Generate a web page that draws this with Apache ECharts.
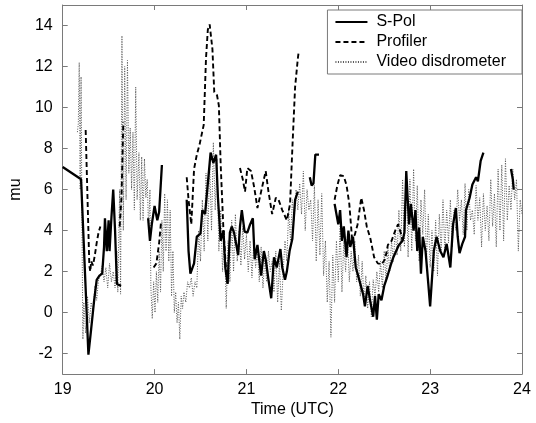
<!DOCTYPE html>
<html>
<head>
<meta charset="utf-8">
<script src="https://cdn.jsdelivr.net/npm/echarts@6/dist/echarts.min.js"></script>
<style>
  html, body { margin: 0; padding: 0; background: #fff; }
  #chart { width: 536px; height: 423px; }
</style>
</head>
<body>
<div id="chart"></div>
<script>
// tick labels
var xTicks = [19, 20, 21, 22, 23, 24];
var yTicks = [-2, 0, 2, 4, 6, 8, 10, 12, 14];

// S-Pol [time, mu], null = gap
var sPol = [
    [19.00, 7.1], [19.20, 6.5], [19.28, -2.05], [19.31, -0.8], [19.34, 0.5], [19.37, 1.6], [19.40, 1.8], [19.43, 1.9],
    [19.45, 3.2], [19.46, 4.6], [19.48, 3.0], [19.50, 4.5], [19.51, 3.0], [19.53, 4.6], [19.55, 6.0], [19.57, 4.0],
    [19.59, 1.4], [19.635, 1.3], [19.64, null],
    [19.93, 4.6], [19.95, 3.5], [19.97, 4.3], [20.00, 5.2], [20.03, 4.5], [20.05, 4.9], [20.08, 7.2], [20.1, null],
    [20.35, 5.5], [20.37, 3.0], [20.39, 1.9], [20.43, 2.4], [20.46, 3.7], [20.50, 3.85], [20.52, 5.0], [20.55, 4.8],
    [20.61, 7.8], [20.64, 7.3], [20.67, 7.7], [20.69, 5.6], [20.72, 3.5], [20.75, 4.0], [20.77, 2.2], [20.795, 1.4],
    [20.82, 3.9], [20.84, 4.2], [20.865, 3.9], [20.89, 3.3], [20.91, 2.8], [20.93, 4.2], [20.95, 5.0], [20.98, 3.95],
    [21.01, 3.9], [21.04, 4.3], [21.07, 4.6], [21.09, 2.6], [21.12, 3.3], [21.16, 1.8], [21.19, 3.0], [21.21, 2.6],
    [21.24, 1.6], [21.27, 0.7], [21.30, 2.7], [21.33, 2.2], [21.37, 3.1], [21.39, 2.2], [21.42, 1.6], [21.44, 2.0],
    [21.47, 3.0], [21.50, 3.6], [21.53, 5.5], [21.56, 5.9], [21.6, null],
    [21.69, 6.6], [21.71, 6.2], [21.73, 6.3], [21.75, 7.7], [21.79, 7.7], [21.85, null],
    [21.96, 5.3], [22.00, 4.3], [22.02, 5.0], [22.04, 3.5], [22.06, 4.2], [22.09, 2.7], [22.11, 4.0], [22.13, 3.2],
    [22.16, 3.7], [22.19, 2.2], [22.21, 1.9], [22.24, 1.4], [22.27, 0.9], [22.29, 0.3], [22.32, 1.3], [22.35, 0.5],
    [22.38, -0.2], [22.40, 0.8], [22.42, -0.35], [22.44, 0.9], [22.47, 0.6], [22.50, 1.3], [22.53, 1.7], [22.57, 2.3],
    [22.60, 2.7], [22.63, 3.0], [22.66, 3.3], [22.70, 3.5], [22.72, 3.9], [22.74, 6.9], [22.77, 4.3], [22.79, 5.3],
    [22.82, 4.0], [22.84, 5.0], [22.86, 3.0], [22.88, 4.15], [22.90, 1.9], [22.92, 3.7], [22.95, 3.0], [22.98, 1.4],
    [23.00, 0.3], [23.04, 3.0], [23.07, 3.7], [23.11, 3.0], [23.145, 2.7], [23.18, 3.35], [23.22, 2.2], [23.25, 4.3],
    [23.28, 5.1], [23.30, 3.7], [23.32, 2.9], [23.35, 3.35], [23.38, 3.7], [23.39, 5.0], [23.43, 5.6], [23.46, 6.25],
    [23.50, 6.6], [23.52, 6.4], [23.55, 7.4], [23.58, 7.8], [23.7, null],
    [23.88, 7.0], [23.90, 6.5], [23.91, 6.0]
];

// Profiler
var profiler = [
    [19.25, 8.9], [19.29, 2.3], [19.30, 2.0], [19.31, 2.5], [19.33, 2.3], [19.35, 2.8], [19.37, 3.4], [19.39, 3.9],
    [19.41, 4.2], [19.42, null],
    [19.62, 4.2], [19.64, 5.6], [19.66, 9.3], [19.7, null],
    [19.99, 2.2], [20.02, 2.4], [20.05, 3.4], [20.07, 4.4], [20.1, null],
    [20.35, 6.6], [20.37, 5.5], [20.40, 4.3], [20.43, 7.0], [20.46, 7.7], [20.49, 8.2], [20.51, 8.25], [20.535, 9.15],
    [20.56, 12.4], [20.58, 13.8], [20.60, 14.05], [20.63, 12.85], [20.65, 10.75], [20.68, 10.6], [20.70, 10.1],
    [20.72, 7.2], [20.75, 4.0], [20.78, 2.0], [20.80, 1.3], [20.85, null],
    [20.93, 7.05], [20.96, 6.5], [20.985, 5.9], [21.01, 7.05], [21.05, 6.9], [21.085, 6.1], [21.12, 5.1], [21.16, 5.9],
    [21.21, 6.9], [21.24, 5.9], [21.28, 4.8], [21.32, 5.6], [21.35, 5.5], [21.39, 5.0], [21.44, 4.5], [21.475, 5.3],
    [21.50, 8.0], [21.53, 11.0], [21.56, 12.4], [21.57, 12.75], [21.6, null],
    [21.96, 5.5], [21.99, 6.2], [22.02, 6.7], [22.06, 6.65], [22.09, 6.2], [22.12, 5.3], [22.15, 3.6], [22.18, 3.8],
    [22.21, 4.3], [22.25, 5.6], [22.28, 5.0], [22.31, 4.2], [22.35, 3.6], [22.39, 2.7], [22.43, 2.4], [22.47, 2.35],
    [22.51, 2.6], [22.54, 3.3], [22.58, 3.5], [22.62, 4.0], [22.65, 4.3], [22.68, 3.9], [22.70, 3.5]
];

// Video disdrometer
var video = [
    [19.16, 8.8], [19.17, 9.2], [19.18, 12.2], [19.19, 6.0], [19.20, 11.5], [19.21, 4.0], [19.22, -1.3], [19.23, 0.5],
    [19.25, -1.0], [19.27, 0.8], [19.29, -0.5], [19.31, 0.5], [19.33, 0.0], [19.35, 1.3], [19.37, 0.6], [19.39, 1.6],
    [19.41, 1.8], [19.43, 2.3], [19.45, 1.5], [19.47, 2.2], [19.49, 1.2], [19.51, 2.4], [19.53, 1.5], [19.55, 2.0],
    [19.57, 1.2], [19.59, 3.0], [19.60, 1.0], [19.62, 6.0], [19.63, 0.9], [19.645, 13.5], [19.66, 4.0], [19.675, 12.0],
    [19.69, 5.5], [19.705, 12.3], [19.72, 6.8], [19.735, 9.0], [19.75, 6.0], [19.765, 8.8], [19.78, 5.0], [19.795, 11.0],
    [19.81, 5.5], [19.83, 7.8], [19.845, 4.5], [19.86, 7.6], [19.875, 4.5], [19.89, 7.5], [19.905, 5.6], [19.92, 6.5],
    [19.935, 4.0], [19.95, 6.0], [19.96, 1.2], [19.975, -0.3], [19.99, 1.5], [20.005, 0.0], [20.02, 2.0], [20.035, 0.5],
    [20.05, 3.0], [20.065, 1.0], [20.08, 4.5], [20.095, 2.0], [20.11, 5.8], [20.125, 3.0], [20.14, 5.5], [20.155, 2.5],
    [20.17, 5.0], [20.185, 0.8], [20.20, 3.0], [20.215, 0.0], [20.23, 1.0], [20.245, -0.5], [20.26, 0.5], [20.275, -1.3],
    [20.29, 0.8], [20.305, 0.2], [20.32, 1.0], [20.34, 0.5], [20.36, 1.5], [20.38, 1.2], [20.40, 1.7], [20.42, 0.8],
    [20.44, 1.5], [20.46, 1.2], [20.48, 4.0], [20.50, 2.5], [20.52, 5.5], [20.54, 3.0], [20.56, 6.8], [20.58, 3.5],
    [20.60, 7.3], [20.62, 4.0], [20.64, 8.3], [20.66, 5.0], [20.68, 7.5], [20.70, 3.0], [20.72, 5.0], [20.74, 2.0],
    [20.76, 4.0], [20.78, 0.2], [20.80, 3.5], [20.82, 1.5], [20.84, 4.5], [20.86, 2.0], [20.88, 4.8], [20.90, 2.5],
    [20.92, 4.0], [20.94, 2.3], [20.96, 4.2], [20.98, 2.6], [21.00, 3.8], [21.02, 2.0], [21.04, 3.5], [21.06, 1.7],
    [21.08, 3.4], [21.10, 2.2], [21.12, 3.0], [21.14, 1.5], [21.16, 3.2], [21.18, 1.2], [21.20, 2.7], [21.22, 1.5],
    [21.24, 3.0], [21.26, 2.0], [21.28, 2.5], [21.30, 1.0], [21.32, 3.0], [21.34, 0.5], [21.36, 2.5], [21.38, 0.1],
    [21.40, 2.0], [21.42, 3.5], [21.44, 2.5], [21.46, 5.0], [21.48, 3.5], [21.50, 5.5], [21.52, 4.5], [21.54, 6.0],
    [21.56, 5.0], [21.58, 6.3], [21.60, 4.8], [21.62, 6.9], [21.64, 4.0], [21.66, 6.0], [21.68, 5.0], [21.70, 5.5],
    [21.72, 3.5], [21.74, 6.2], [21.76, 2.5], [21.78, 5.5], [21.80, 2.8], [21.82, 5.8], [21.84, 1.8], [21.86, 3.5],
    [21.88, 0.5], [21.90, 2.5], [21.92, -1.2], [21.94, 2.8], [21.96, 0.5], [21.98, 3.5], [22.00, 1.5], [22.02, 4.2],
    [22.04, 1.0], [22.06, 3.5], [22.08, 2.0], [22.10, 3.8], [22.12, 1.5], [22.14, 3.0], [22.16, 2.0], [22.18, 3.5],
    [22.20, 1.5], [22.22, 2.8], [22.24, 0.8], [22.26, 2.5], [22.28, 0.5], [22.30, 1.8], [22.32, 0.2], [22.34, 1.5],
    [22.36, -0.2], [22.38, 1.6], [22.40, 0.8], [22.42, 2.0], [22.44, 1.0], [22.46, 2.5], [22.48, 1.2], [22.50, 3.0],
    [22.52, 1.5], [22.54, 3.2], [22.56, 2.0], [22.58, 3.5], [22.60, 2.5], [22.62, 4.0], [22.64, 2.8], [22.66, 5.0],
    [22.68, 3.0], [22.70, 6.5], [22.72, 3.2], [22.74, 6.8], [22.76, 2.7], [22.78, 6.5], [22.80, 3.0], [22.82, 7.0],
    [22.84, 3.5], [22.86, 6.2], [22.88, 2.5], [22.90, 5.5], [22.92, 3.8], [22.94, 6.0], [22.96, 2.5], [22.98, 4.8],
    [23.00, 2.2], [23.02, 4.0], [23.04, 2.0], [23.06, 4.5], [23.08, 1.8], [23.10, 4.8], [23.12, 3.0], [23.14, 5.5],
    [23.16, 3.0], [23.18, 5.0], [23.20, 3.4], [23.22, 5.5], [23.24, 3.2], [23.26, 5.0], [23.28, 4.0], [23.30, 6.0],
    [23.32, 4.5], [23.34, 5.5], [23.36, 3.8], [23.38, 6.3], [23.40, 4.0], [23.42, 6.0], [23.44, 4.5], [23.46, 5.0],
    [23.48, 3.8], [23.50, 6.2], [23.52, 4.5], [23.54, 5.6], [23.56, 3.2], [23.58, 5.8], [23.60, 4.0], [23.62, 5.2],
    [23.64, 3.5], [23.66, 6.5], [23.68, 4.2], [23.70, 5.8], [23.72, 3.2], [23.74, 7.0], [23.76, 4.0], [23.78, 7.2],
    [23.80, 3.5], [23.82, 7.5], [23.84, 4.5], [23.86, 6.2], [23.88, 5.0], [23.90, 7.0], [23.92, 5.5], [23.94, 6.5],
    [23.96, 3.0], [23.98, 5.5], [24.00, 4.8]
];

var font = 'Liberation Sans, Arial, sans-serif';
var axisColor = '#7a7a7a';

var chart = echarts.init(document.getElementById('chart'), null, { renderer: 'canvas' });

function xAx(pos, labels) {
    return {
        type: 'value', min: 19, max: 24, interval: 1, position: pos,
        axisLine: { show: true, onZero: false, lineStyle: { color: axisColor, width: 1 } },
        axisTick: { show: true, inside: true, length: 5, lineStyle: { color: axisColor } },
        axisLabel: { show: labels, color: '#000', fontSize: 16, fontFamily: font, margin: 7 },
        splitLine: { show: false },
        name: labels ? 'Time (UTC)' : '',
        nameLocation: 'middle', nameGap: 27,
        nameTextStyle: { color: '#000', fontSize: 16, fontFamily: font }
    };
}
function yAx(pos, labels) {
    return {
        type: 'value', min: -3, max: 15, position: pos,
        axisLine: { show: true, onZero: false, lineStyle: { color: axisColor, width: 1 } },
        axisTick: { show: true, inside: true, length: 5, customValues: yTicks, lineStyle: { color: axisColor } },
        axisLabel: { show: labels, customValues: yTicks, color: '#000', fontSize: 16, fontFamily: font, margin: 10 },
        splitLine: { show: false },
        name: labels ? 'mu' : '',
        nameLocation: 'middle', nameGap: 34, nameRotate: 90,
        nameTextStyle: { color: '#000', fontSize: 16, fontFamily: font }
    };
}

chart.setOption({
    animation: false,
    backgroundColor: '#fff',
    grid: { left: 52, right: 14, top: 5, bottom: 44 },
    legend: {
        orient: 'vertical', right: 14, top: 10,
        itemWidth: 32, itemHeight: 12, itemGap: 4,
        backgroundColor: '#fff', borderColor: axisColor, borderWidth: 1,
        borderRadius: 0,
        padding: [4, 16, 4, 7],
        itemStyle: { opacity: 0 },
        textStyle: { color: '#000', fontSize: 16, fontFamily: font, padding: [0, 0, 0, 4] },
        data: ['S-Pol', 'Profiler', 'Video disdrometer']
    },
    xAxis: [xAx('bottom', true), xAx('top', false)],
    yAxis: [yAx('left', true), yAx('right', false)],
    series: [
        {
            name: 'S-Pol', type: 'line', data: sPol, symbol: 'none', connectNulls: false, z: 4,
            lineStyle: { color: '#000', width: 2.3, type: 'solid' }, itemStyle: { color: '#000' }
        },
        {
            name: 'Profiler', type: 'line', data: profiler, symbol: 'none', connectNulls: false, z: 3,
            lineStyle: { color: '#000', width: 1.9, type: [5, 3] }, itemStyle: { color: '#000' }
        },
        {
            name: 'Video disdrometer', type: 'line', data: video, symbol: 'none', connectNulls: false, z: 2,
            lineStyle: { color: '#555', width: 1, type: [1, 1.5] }, itemStyle: { color: '#555' }
        }
    ]
});
</script>
</body>
</html>
